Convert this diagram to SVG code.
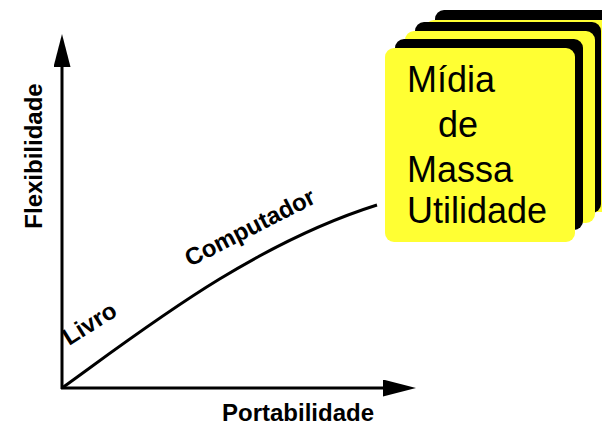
<svg xmlns="http://www.w3.org/2000/svg" width="602" height="427" viewBox="0 0 602 427">
  <defs>
    <marker id="arrow" markerUnits="userSpaceOnUse" markerWidth="33" markerHeight="17" refX="0" refY="8.5" orient="auto">
      <path d="M0,0 L33,8.5 L0,17 z" fill="#000"/>
    </marker>
  </defs>
  <style>
    .axis { stroke: #000; stroke-width: 3; fill: none; }
    .lbl { font-family: "Liberation Sans", Arial, sans-serif; font-weight: bold; font-size: 24px; fill: #000; }
    .card { fill: #ffff33; }
    .shadow { fill: #000; }
    .ctext { font-family: "Liberation Sans", Arial, sans-serif; font-size: 36px; fill: #000; }
  </style>
  <rect width="602" height="427" fill="#fff"/>
  <g id="connectors">
    <line class="axis" x1="62" y1="389" x2="62" y2="67" marker-end="url(#arrow)"/>
    <line class="axis" x1="61" y1="388" x2="383" y2="388" marker-end="url(#arrow)"/>
    <path class="axis" d="M62,388 C140,332 250,245 377,205"/>
  </g>
  <g id="axis-y-label">
    <text class="lbl" transform="translate(42,156) rotate(-90)" text-anchor="middle">Flexibilidade</text>
  </g>
  <g id="axis-x-label">
    <text class="lbl" x="298" y="421" text-anchor="middle">Portabilidade</text>
  </g>
  <g id="livro">
    <text class="lbl" transform="translate(69,346) rotate(-32)">Livro</text>
  </g>
  <g id="computador">
    <text class="lbl" transform="translate(190,267) rotate(-27)">Computador</text>
  </g>
  <g id="midia-stack">
    <rect class="shadow" x="435" y="10" width="200" height="192" rx="9"/>
    <rect class="card" x="425" y="20" width="200" height="192" rx="9"/>
    <rect class="shadow" x="415" y="22" width="186" height="191" rx="9"/>
    <rect class="card" x="405" y="31" width="190" height="192" rx="9"/>
    <rect class="shadow" x="395" y="39" width="188" height="191" rx="9"/>
    <rect class="card" x="385" y="48" width="190" height="194" rx="9"/>
    <text class="ctext" x="407" y="92">Mídia</text>
    <text class="ctext" x="438" y="137">de</text>
    <text class="ctext" x="407" y="182">Massa</text>
    <text class="ctext" x="407" y="223">Utilidade</text>
  </g>
</svg>
